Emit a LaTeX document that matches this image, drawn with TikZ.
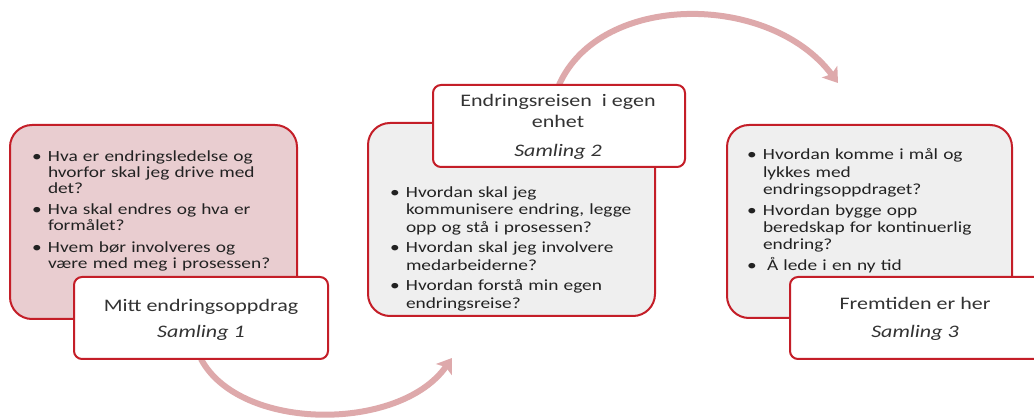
\documentclass[tikz,border=0pt]{standalone}
\usepackage{fontspec}
\setmainfont{Carlito}[FakeStretch=1.25]
\usetikzlibrary{arrows.meta}
\definecolor{bord}{HTML}{C41E28}
\definecolor{pinkfill}{HTML}{E9CDD0}
\definecolor{greyfill}{HTML}{EFEFEF}
\definecolor{arrowcol}{HTML}{DEA9AB}
\definecolor{bodytxt}{HTML}{222222}
\definecolor{labeltxt}{HTML}{333333}
\newcommand{\bitem}[1]{\par\hangindent=16pt\hangafter=1\noindent\strut\makebox[16pt][l]{\textbullet}#1\par}
\tikzset{
  bigbox/.style={draw=bord, line width=2pt, rounded corners=22pt, anchor=north west, inner sep=0pt, outer sep=0pt},
  lblbox/.style={draw=bord, line width=2pt, rounded corners=8pt, fill=white, anchor=north west, inner sep=0pt, outer sep=0pt, minimum height=82pt},
  bullist/.style={anchor=north west, inner sep=0pt, outer sep=0pt, text=bodytxt, align=left, text width=260pt},
  lbltext/.style={anchor=base, inner sep=0pt, outer sep=0pt, text=labeltxt, font=\fontsize{17.6}{21}\selectfont},
  flowarrow/.style={draw=arrowcol, line width=6pt, -{Stealth[length=14pt,width=19pt,inset=3pt]}}
}
\begin{document}
\begin{tikzpicture}[x=1pt,y=-1pt]
\useasboundingbox (0,0) rectangle (1034,419);
\fill[white] (0,0) rectangle (1034,419);

% big boxes
\node[bigbox, fill=pinkfill, minimum width=287pt, minimum height=194pt] (b1) at (10,125) {};
\node[bigbox, fill=greyfill, minimum width=287pt, minimum height=193pt] (b2) at (368,123) {};
\node[bigbox, fill=greyfill, minimum width=285pt, minimum height=193pt] (b3) at (727,125) {};

% bullet texts
\node[bullist, font=\fontsize{15.5}{16}\selectfont] (t1) at (32,140) {\setlength{\parskip}{5.5pt}%
\bitem{Hva er endringsledelse og\newline hvorfor skal jeg drive med\newline det?}%
\bitem{Hva skal endres og hva er\newline formålet?}%
\bitem{Hvem bør involveres og\newline være med meg i prosessen?}};

\node[bullist, font=\fontsize{15.5}{17.5}\selectfont] (t2) at (390,177) {\setlength{\parskip}{3pt}%
\bitem{Hvordan skal jeg\newline kommunisere endring, legge\newline opp og stå i prosessen?}%
\bitem{Hvordan skal jeg involvere\newline medarbeiderne?}%
\bitem{Hvordan forstå min egen\newline endringsreise?}};

\node[bullist, font=\fontsize{15.5}{17.3}\selectfont] (t3) at (747,139) {\setlength{\parskip}{3.5pt}%
\bitem{Hvordan komme i mål og\newline lykkes med\newline endringsoppdraget?}%
\bitem{Hvordan bygge opp\newline beredskap for kontinuerlig\newline endring?}%
\bitem{\hspace{4pt}Å lede i en ny tid}};

% arrows drawn first, then label boxes over their ends
\coordinate (a1e) at (452,358);
\coordinate (a2e) at (838,83);
\coordinate (l1s) at (201,359);
\coordinate (l2n) at (559,85);
\draw[flowarrow] (l1s) .. controls (240,432) and (400,432) .. (a1e);
\draw[flowarrow] (l2n) .. controls (600,-8) and (770,-8) .. (a2e);

% label boxes
\node[lblbox, minimum width=254pt] (l1) at (74,277) {};
\node[lblbox, minimum width=252pt] (l2) at (433,85) {};
\node[lblbox, minimum width=260pt] (l3) at (790,277) {};

% label texts
\node[lbltext] (l1a) at (201,312) {Mitt endringsoppdrag};
\node[lbltext] (l1b) at (201,338) {\itshape Samling 1};
\node[lbltext] (l2a) at (558,107) {Endringsreisen\ \ i egen};
\node[lbltext] (l2b) at (558,128) {enhet};
\node[lbltext] (l2c) at (558,157) {\itshape Samling 2};
\node[lbltext] (l3a) at (915,310) {Fremtiden er her};
\node[lbltext] (l3b) at (915,338) {\itshape Samling 3};
\end{tikzpicture}
\end{document}
